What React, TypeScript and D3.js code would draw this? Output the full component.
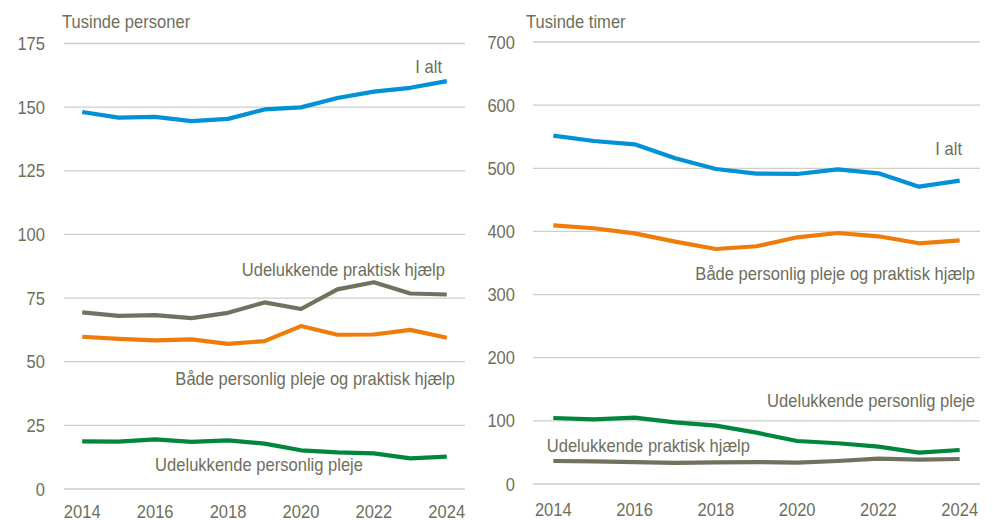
import * as d3 from "d3";

const years = [2014, 2015, 2016, 2017, 2018, 2019, 2020, 2021, 2022, 2023, 2024];
const yearTicks = [2014, 2016, 2018, 2020, 2022, 2024];

// Tusinde personer
const personerIAlt = [148.1, 145.9, 146.2, 144.5, 145.4, 149.1, 149.9, 153.6, 156.1, 157.6, 160.2];
const personerPraktisk = [69.4, 68.0, 68.3, 67.1, 69.2, 73.3, 70.7, 78.4, 81.2, 76.8, 76.4];
const personerBegge = [59.8, 59.0, 58.4, 58.8, 57.0, 58.1, 64.0, 60.6, 60.7, 62.5, 59.4];
const personerPleje = [18.7, 18.6, 19.5, 18.5, 19.1, 17.8, 15.2, 14.4, 14.0, 12.0, 12.7];
const personerTicks = [0, 25, 50, 75, 100, 125, 150, 175];

// Tusinde timer
const timerIAlt = [551.6, 543.2, 538.0, 515.8, 498.9, 491.5, 491.0, 498.4, 492.0, 470.9, 480.4];
const timerBegge = [409.7, 405.0, 397.0, 383.8, 372.2, 376.5, 390.7, 397.5, 392.3, 381.2, 385.9];
const timerPleje = [104.5, 102.4, 105.0, 97.7, 92.4, 81.3, 68.1, 64.5, 59.1, 49.6, 53.8];
const timerPraktisk = [36.4, 35.9, 34.8, 33.3, 34.3, 34.8, 33.8, 36.4, 40.1, 38.5, 39.6];
const timerTicks = [0, 100, 200, 300, 400, 500, 600, 700];

const BLUE = "#0091d6";
const ORANGE = "#ef7b0b";
const GREY = "#717160";
const GREEN = "#00873d";
const TEXT = "#6e6e5c";
const GRID = "#cfcfc5";
const FONT = "'Liberation Sans', Arial, sans-serif";

function Label({ x, y, text, anchor = "start", size = 18 }) {
  return (
    <g transform={`translate(${x},${y}) scale(0.92,1)`}>
      <text x={0} y={0} textAnchor={anchor} fontSize={size} fill={TEXT} fontFamily={FONT}>
        {text}
      </text>
    </g>
  );
}

function Panel({ left, right, top, bottom, max, ticks, title, titleX, series, labels, yLabelX, xLabelY }) {
  const x = d3.scalePoint().domain(years.map(String)).range([left, right]).padding(0.5);
  const y = d3.scaleLinear().domain([0, max]).range([bottom, top]);
  const line = d3
    .line()
    .x((d, i) => x(String(years[i])))
    .y((d) => y(d));

  return (
    <g>
      {ticks.map((t) => (
        <g key={t}>
          <line x1={left} x2={right} y1={y(t)} y2={y(t)} stroke={GRID} strokeWidth={1.3} />
          <Label x={yLabelX} y={y(t) + 6.5} text={String(t)} anchor="end" />
        </g>
      ))}
      {yearTicks.map((yr) => (
        <Label key={yr} x={x(String(yr))} y={xLabelY} text={String(yr)} anchor="middle" />
      ))}
      <Label x={titleX} y={28} text={title} size={18} />
      {series.map((s) => (
        <path
          key={s.name}
          d={line(s.values)}
          fill="none"
          stroke={s.color}
          strokeWidth={4.2}
          strokeLinejoin="round"
        />
      ))}
      {labels.map((l) => (
        <Label key={l.text} x={l.x} y={l.y} text={l.text} anchor="end" />
      ))}
    </g>
  );
}

export default function App() {
  return (
    <svg
      width={993}
      height={520}
      style={{ position: "absolute", left: 0, top: 0, background: "#fff" }}
    >
      <Panel
        left={64}
        right={465}
        top={43.5}
        bottom={489}
        max={175}
        ticks={personerTicks}
        title="Tusinde personer"
        titleX={62}
        yLabelX={45}
        xLabelY={518}
        series={[
          { name: "praktisk", values: personerPraktisk, color: GREY },
          { name: "begge", values: personerBegge, color: ORANGE },
          { name: "pleje", values: personerPleje, color: GREEN },
          { name: "ialt", values: personerIAlt, color: BLUE },
        ]}
        labels={[
          { text: "I alt", x: 442, y: 73 },
          { text: "Udelukkende praktisk hjælp", x: 445, y: 276 },
          { text: "Både personlig pleje og praktisk hjælp", x: 455, y: 385 },
          { text: "Udelukkende personlig pleje", x: 363, y: 471 },
        ]}
      />
      <Panel
        left={533}
        right={980}
        top={42}
        bottom={484}
        max={700}
        ticks={timerTicks}
        title="Tusinde timer"
        titleX={526}
        yLabelX={515}
        xLabelY={516}
        series={[
          { name: "praktisk", values: timerPraktisk, color: GREY },
          { name: "begge", values: timerBegge, color: ORANGE },
          { name: "pleje", values: timerPleje, color: GREEN },
          { name: "ialt", values: timerIAlt, color: BLUE },
        ]}
        labels={[
          { text: "I alt", x: 962, y: 155 },
          { text: "Både personlig pleje og praktisk hjælp", x: 975, y: 280 },
          { text: "Udelukkende personlig pleje", x: 975, y: 407 },
          { text: "Udelukkende praktisk hjælp", x: 750, y: 452 },
        ]}
      />
    </svg>
  );
}
